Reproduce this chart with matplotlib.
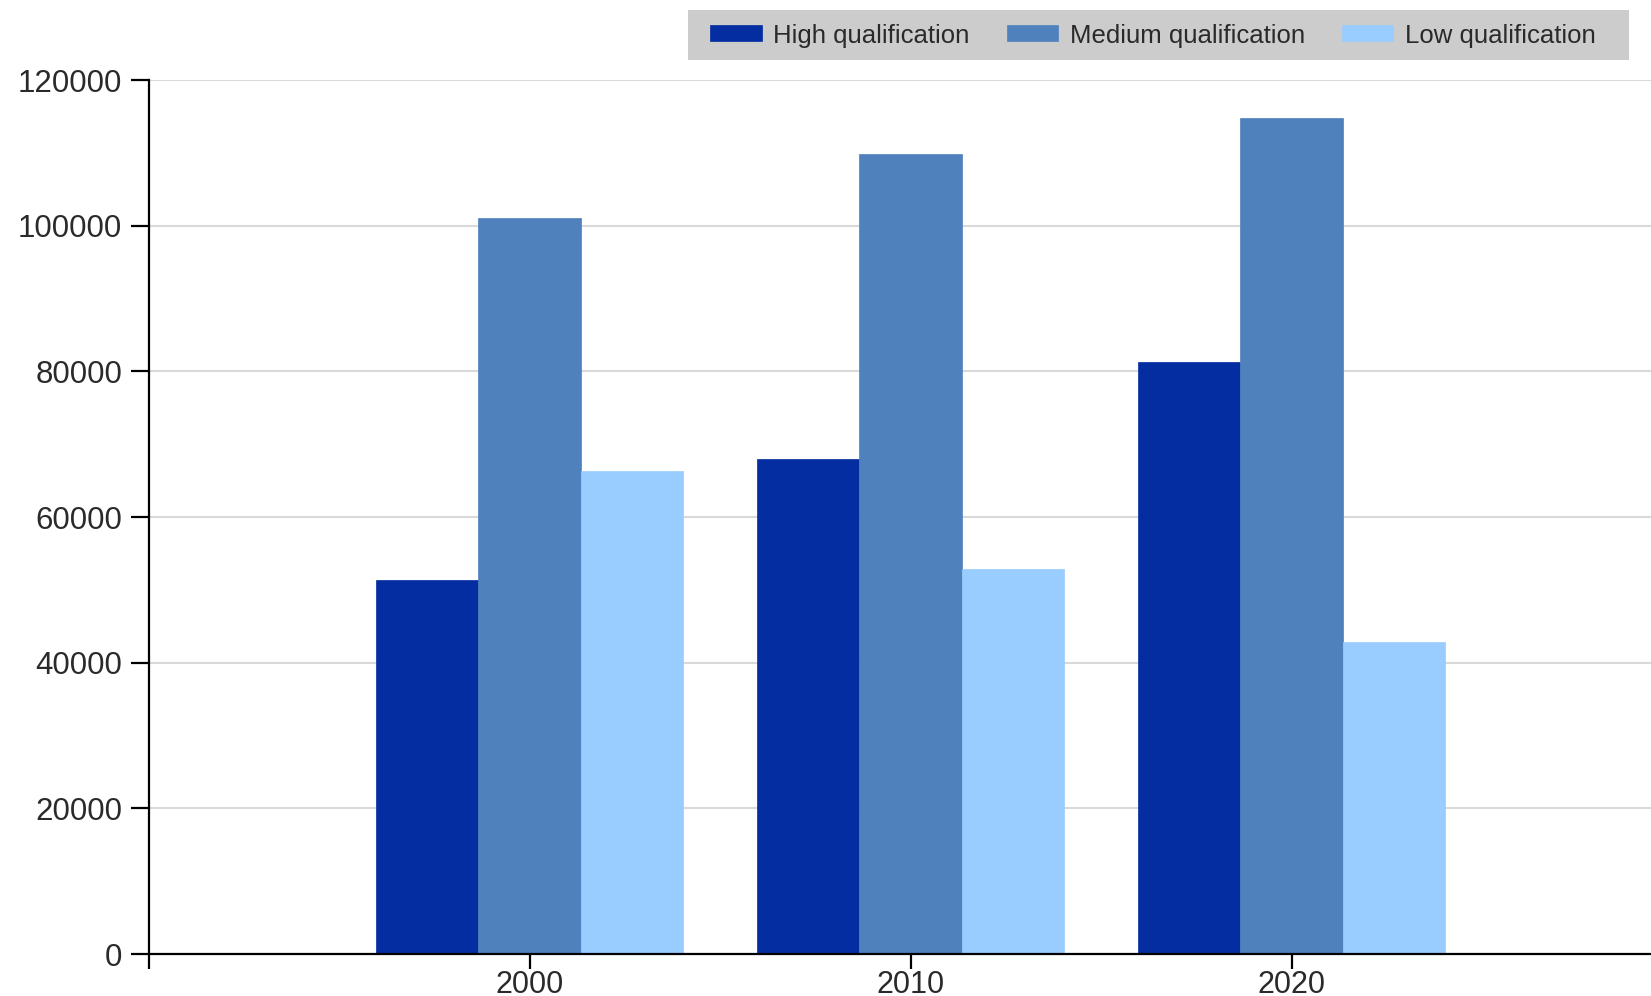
import matplotlib
matplotlib.use("Agg")
import matplotlib.pyplot as plt
from matplotlib.patches import Rectangle
import numpy as np

years = ["2000", "2010", "2020"]
series_names = ["High qualification", "Medium qualification", "Low qualification"]
high = [51400, 67900, 81300]
medium = [101000, 109800, 114800]
low = [66300, 52800, 42900]
colors = ["#032da0", "#4f81bd", "#99ccff"]

plt.rcParams['font.family'] = ['Liberation Sans', 'DejaVu Sans']

W, H = 1651, 996
fig = plt.figure(figsize=(W / 100, H / 100), dpi=100)
left = 148.5 / W
bottom = 1 - 954 / H
top = 1 - 80 / H
xmax = 4.0
width_px = 381.0 * xmax
ax = fig.add_axes([left, bottom, width_px / W, top - bottom])

x = np.arange(1, len(years) + 1)
bw = 0.268
for i, (vals, name, c) in enumerate(zip([high, medium, low], series_names, colors)):
    ax.bar(x + (i - 1) * bw, vals, width=bw, color=c, label=name, zorder=2,
           edgecolor=c, linewidth=0.5)

ax.set_xlim(0, xmax)
ax.set_ylim(0, 120000)
ax.set_yticks(np.arange(0, 120001, 20000))
ax.set_yticklabels([str(v) for v in range(0, 120001, 20000)])
ax.set_xticks([0, 1, 2, 3])
ax.set_xticklabels([""] + years)

ax.grid(axis='y', color='#d9d9d9', linewidth=1.5, zorder=0)
ax.set_axisbelow(True)
for s in ['top', 'right']:
    ax.spines[s].set_visible(False)
for s in ['left', 'bottom']:
    ax.spines[s].set_linewidth(1.6)
    ax.spines[s].set_color('black')

ax.tick_params(axis='y', length=13, width=1.6, pad=6, labelsize=22.5, labelcolor='#2a2a2a')
ax.tick_params(axis='x', length=11, width=1.6, pad=0.5, labelsize=22, labelcolor='#2a2a2a')

# legend background box
fig.patches.append(Rectangle((688 / W, 1 - 60 / H), (1629 - 688) / W, (60 - 10.5) / H,
                             transform=fig.transFigure, facecolor='#cccccc',
                             edgecolor='none', zorder=0))
leg = fig.legend(loc='center', bbox_to_anchor=(1153 / W, 1 - 35.5 / H),
                 ncol=3, fontsize=18.5, frameon=False,
                 handlelength=2.0, handleheight=0.58, handletextpad=0.45,
                 columnspacing=1.45, borderpad=0, borderaxespad=0)
for t in leg.get_texts():
    t.set_color('#2a2a2a')

fig.savefig("out.png", dpi=100)
